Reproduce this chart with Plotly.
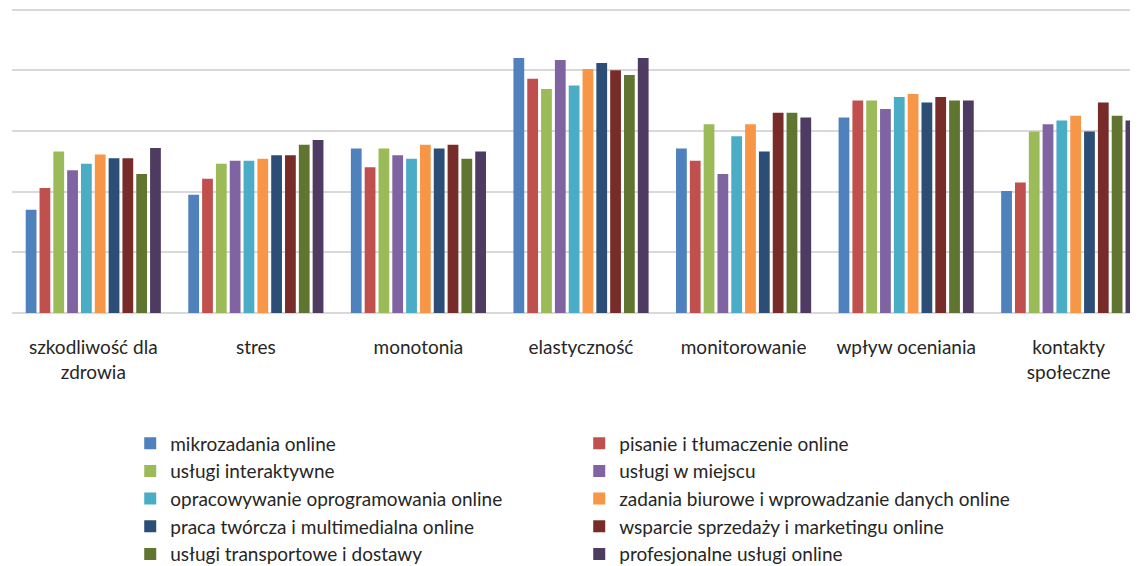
import plotly.graph_objects as go

categories = ["szkodliwość dla<br>zdrowia", "stres", "monotonia", "elastyczność",
              "monitorowanie", "wpływ oceniania", "kontakty<br>społeczne"]

series_names = [
    "mikrozadania online",
    "pisanie i tłumaczenie online",
    "usługi interaktywne",
    "usługi w miejscu",
    "opracowywanie oprogramowania online",
    "zadania biurowe i wprowadzanie danych online",
    "praca twórcza i multimedialna online",
    "wsparcie sprzedaży i marketingu online",
    "usługi transportowe i dostawy",
    "profesjonalne usługi online",
]

mikrozadania = [1.70, 1.95, 2.71, 4.20, 2.71, 3.22, 2.01]
pisanie = [2.06, 2.21, 2.40, 3.86, 2.51, 3.50, 2.15]
interaktywne = [2.66, 2.46, 2.71, 3.69, 3.11, 3.50, 2.99]
w_miejscu = [2.35, 2.51, 2.60, 4.17, 2.29, 3.36, 3.11]
oprogramowanie = [2.46, 2.51, 2.54, 3.75, 2.91, 3.56, 3.17]
biurowe = [2.61, 2.54, 2.77, 4.02, 3.11, 3.61, 3.25]
tworcza = [2.55, 2.60, 2.71, 4.12, 2.66, 3.47, 2.99]
sprzedaz = [2.55, 2.60, 2.77, 4.00, 3.30, 3.56, 3.47]
transport = [2.29, 2.77, 2.54, 3.92, 3.30, 3.50, 3.25]
profesjonalne = [2.72, 2.85, 2.66, 4.20, 3.22, 3.50, 3.17]

series_values = [mikrozadania, pisanie, interaktywne, w_miejscu, oprogramowanie,
                 biurowe, tworcza, sprzedaz, transport, profesjonalne]

colors = ["#4F81BD", "#C0504D", "#9BBB59", "#8064A2", "#4BACC6",
          "#F79646", "#2C4D75", "#772C2A", "#5F7530", "#4D3B62"]

fig = go.Figure()
for name, vals, col in zip(series_names, series_values, colors):
    fig.add_trace(go.Bar(name=name, x=categories, y=vals, marker_color=col,
                         marker_line_width=0))

# page body has an 8px default margin, so the figure is a bit smaller
W, H = 1130, 558
ml, mr, mt, mb = 4, 0, 0, 252.5
fig.update_layout(
    width=W, height=H,
    margin=dict(l=ml, r=mr, t=mt, b=mb, pad=0, autoexpand=False),
    paper_bgcolor="white", plot_bgcolor="white",
    barmode="group", bargap=0.15, bargroupgap=0.22,
    font=dict(family="Lato, Liberation Sans, sans-serif", color="#262626"),
    legend=dict(orientation="h", x=0.105, xanchor="left", y=-0.365, yanchor="top",
                entrywidth=404, entrywidthmode="pixels", itemwidth=30,
                font=dict(size=19, family="Lato, sans-serif", color="#262626"),
                traceorder="normal", bgcolor="rgba(0,0,0,0)"),
    showlegend=True,
)
fig.update_xaxes(range=[-0.5, 6.426], showgrid=False, showline=False, ticks="",
                 zeroline=False,
                 tickfont=dict(size=19, family="Lato, sans-serif", color="#262626"),
                 ticklabelstandoff=21)
fig.update_yaxes(range=[0, 5.025], dtick=1, showticklabels=False, showgrid=True,
                 gridcolor="#D9D9D9", gridwidth=1.5, zeroline=True,
                 zerolinecolor="#D9D9D9", zerolinewidth=1.5, showline=False, ticks="")

fig.write_html("out.html")
